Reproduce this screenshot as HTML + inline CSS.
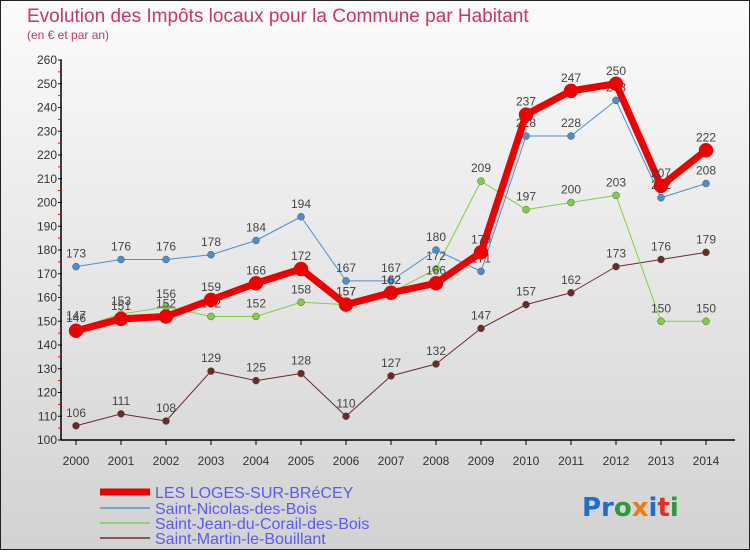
<!DOCTYPE html>
<html><head><meta charset="utf-8"><style>
html,body{margin:0;padding:0}
body{width:750px;height:550px;overflow:hidden;font-family:"Liberation Sans",sans-serif}
</style></head><body>
<svg width="750" height="550" viewBox="0 0 750 550">
<defs><linearGradient id="bg" x1="0" y1="0" x2="0" y2="1"><stop offset="0" stop-color="#fbfbfb"/><stop offset="1" stop-color="#d2d2d2"/></linearGradient></defs>
<rect x="0.5" y="0.5" width="749" height="549" fill="url(#bg)" stroke="#222"/>
<text x="27" y="22" font-size="19" fill="#c8385f">Evolution des Impôts locaux pour la Commune par Habitant</text>
<text x="27" y="39" font-size="12" fill="#c8385f">(en € et par an)</text>
<g id="axes"></g>
<g id="series"></g>
<g id="legend">
<line x1="100" y1="492" x2="150" y2="492" stroke="#e00" stroke-width="7"/>
<text x="155" y="498" font-size="16" fill="#5a5aee">LES LOGES-SUR-BRéCEY</text>
<line x1="100" y1="508" x2="150" y2="508" stroke="#6fa7cf" stroke-width="2"/>
<text x="155" y="514" font-size="16" fill="#5a5aee">Saint-Nicolas-des-Bois</text>
<line x1="100" y1="523" x2="150" y2="523" stroke="#8fd06f" stroke-width="2"/>
<text x="155" y="529" font-size="16" fill="#5a5aee">Saint-Jean-du-Corail-des-Bois</text>
<line x1="100" y1="538" x2="150" y2="538" stroke="#8a5555" stroke-width="2"/>
<text x="155" y="544" font-size="16" fill="#5a5aee">Saint-Martin-le-Bouillant</text>
</g>
<g font-size="26" font-family="'DejaVu Sans',sans-serif" font-weight="bold">
<text x="582" y="516"><tspan fill="#1a6fcf">Pr</tspan><tspan fill="#2a9a3a">o</tspan><tspan fill="#f07a10">x</tspan><tspan fill="#1a6fcf">i</tspan><tspan fill="#e03020">t</tspan><tspan fill="#2a9a3a">i</tspan></text>
</g>
</svg>
<script>
const years=[2000,2001,2002,2003,2004,2005,2006,2007,2008,2009,2010,2011,2012,2013,2014];
const yTicks=[100,110,120,130,140,150,160,170,180,190,200,210,220,230,240,250,260];
const loges=[146,151,152,159,166,172,157,162,166,179,237,247,250,207,222];
const nicolas=[173,176,176,178,184,194,167,167,180,171,228,228,243,202,208];
const jean=[147,153,156,152,152,158,157,162,172,209,197,200,203,150,150];
const martin=[106,111,108,129,125,128,110,127,132,147,157,162,173,176,179];
const NS="http://www.w3.org/2000/svg";
const X=i=>76+i*45, Y=v=>440-(v-100)*2.375;
function el(t,a,p){const e=document.createElementNS(NS,t);for(const k in a)e.setAttribute(k,a[k]);p.appendChild(e);return e;}
const ax=document.getElementById('axes');
let l=el('line',{x1:61,y1:60,x2:61,y2:440,stroke:'#000','stroke-width':1.5},ax);


l=el('line',{x1:61,y1:440,x2:735,y2:440,stroke:'#000','stroke-width':1.5},ax);


yTicks.forEach((v,i)=>{
 el('line',{x1:58,y1:Y(v),x2:62,y2:Y(v),stroke:'#000'},ax);
 if(i<yTicks.length-1) el('line',{x1:58,y1:Y(v+5),x2:61,y2:Y(v+5),stroke:'#e00'},ax);
 const t=el('text',{x:57,y:Y(v)+4,'font-size':12,'text-anchor':'end',fill:'#333'},ax);
 t.textContent=v;
 
 
});
years.forEach((yr,i)=>{
 el('line',{x1:X(i),y1:440,x2:X(i),y2:445,stroke:'#000'},ax);
 const t=el('text',{x:X(i),y:465,'font-size':12,'text-anchor':'middle',fill:'#333'},ax);
 t.textContent=yr;
 
 
});
const sg=document.getElementById('series');
function draw(vals,color,w,r,name){
 const g=el('g',{},sg);
 
 
 const pl=el('polyline',{points:vals.map((v,i)=>X(i)+','+Y(v)).join(' '),fill:'none',stroke:color,'stroke-width':w,'stroke-linejoin':'round'},g);
 
 
 vals.forEach((v,i)=>{
  const c=el('circle',{cx:X(i),cy:Y(v),r:r,fill:color,stroke:w>3?color:'#555','stroke-width':0.5},g);
  
  
  const t=el('text',{x:X(i),y:Y(v)-9,'font-size':12,'text-anchor':'middle',fill:'#444'},g);
  t.textContent=v;
  
  
 });
}
draw(martin,'#6a2a2a',1,3.5,'martin');
draw(jean,'#7fd040',1,3.5,'jean');
draw(nicolas,'#4a8fcf',1,3.5,'nicolas');
draw(loges,'#ee0000',7,7,'loges');
</script>
</body></html>
